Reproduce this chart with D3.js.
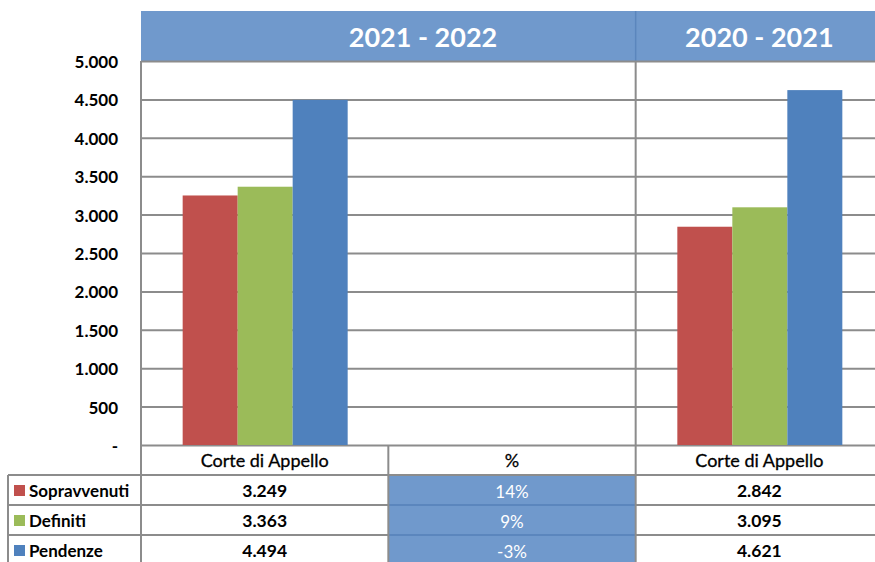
<!DOCTYPE html>
<html>
<head>
<meta charset="utf-8">
<script src="https://cdn.jsdelivr.net/npm/d3@7"></script>
<style>
  body { margin: 0; background: #fff; }
  svg text { font-family: Lato, "Open Sans", sans-serif; }
</style>
</head>
<body>
<div id="chart"></div>
<script>
// ----------------------------------------------- //
// Data
var periods = ["2021 - 2022", "2020 - 2021"];
var columns = ["Corte di Appello", "%", "Corte di Appello "];
var seriesNames = ["Sopravvenuti", "Definiti", "Pendenze"];
var values2122 = [3249, 3363, 4494];
var values2021 = [2842, 3095, 4621];
var pctLabels = ["14%", "9%", "-3%"];
var yTicks = [0, 500, 1000, 1500, 2000, 2500, 3000, 3500, 4000, 4500, 5000];
var colors = ["#c0504d", "#9bbb59", "#4f81bd"];

// ----------------------------------------------- //
// Sizes
var svgWidth = 875;
var svgHeight = 562;
var plotLeft = 141, plotRight = 883;
var plotTop = 61, plotBottom = 445;
var rowH = 30;

var svg = d3.select("#chart")
    .append("svg")
    .attr("width", svgWidth)
    .attr("height", svgHeight);

var x = d3.scaleBand()
    .domain(columns)
    .range([plotLeft, plotRight]);

var y = d3.scaleLinear()
    .domain([0, 5000])
    .range([plotBottom, plotTop]);

var barX = d3.scaleBand()
    .domain(seriesNames)
    .range([0, 165]);

var gridColor = "#8c8c8c";
var fmt = v => d3.format(",")(v).replace(/,/g, ".");

// ----------------------------------------------- //
// Header band
svg.append("rect")
    .attr("x", plotLeft).attr("y", 11)
    .attr("width", svgWidth - plotLeft).attr("height", plotTop - 11)
    .attr("fill", "#7099cc");
svg.append("line")
    .attr("x1", x(columns[2])).attr("x2", x(columns[2]))
    .attr("y1", 11).attr("y2", plotTop)
    .attr("stroke", "#5b86bd").attr("stroke-width", 1.5);

svg.append("text")
    .attr("x", 423).attr("y", 47)
    .attr("text-anchor", "middle")
    .attr("fill", "#fff").attr("font-size", 27).attr("font-weight", "bold")
    .text(periods[0]);
svg.append("text")
    .attr("x", x(columns[2]) + x.bandwidth() / 2).attr("y", 47)
    .attr("text-anchor", "middle")
    .attr("fill", "#fff").attr("font-size", 27).attr("font-weight", "bold")
    .text(periods[1]);

// ----------------------------------------------- //
// Gridlines and y labels
var leftAxis = d3.axisLeft(y)
    .tickValues(yTicks)
    .tickSize(-(svgWidth - plotLeft))
    .tickFormat(d => d === 0 ? "-" : fmt(d));

var yAxis = svg.append("g")
    .attr("transform", `translate(${plotLeft}, 0)`)
    .call(leftAxis);
yAxis.select(".domain").remove();
yAxis.selectAll(".tick line")
    .attr("stroke", gridColor).attr("stroke-width", 2);
yAxis.selectAll(".tick text")
    .attr("x", -23)
    .attr("dy", "0.38em")
    .attr("fill", "#000")
    .attr("font-size", 17)
    .attr("font-weight", "bold")
    .style("font-family", "Lato, 'Open Sans', sans-serif");

// vertical lines
svg.append("line")
    .attr("x1", plotLeft).attr("x2", plotLeft)
    .attr("y1", plotTop).attr("y2", svgHeight)
    .attr("stroke", gridColor).attr("stroke-width", 2);
svg.append("line")
    .attr("x1", x(columns[2])).attr("x2", x(columns[2]))
    .attr("y1", plotTop).attr("y2", plotBottom)
    .attr("stroke", gridColor).attr("stroke-width", 2);

// ----------------------------------------------- //
// Bars
function drawBars(col, vals) {
    var g = svg.append("g")
        .attr("transform", `translate(${x(col) + x.bandwidth() / 2 - 82}, 0)`);
    g.selectAll("rect")
        .data(vals)
        .enter()
        .append("rect")
        .attr("x", (d, i) => barX(seriesNames[i]))
        .attr("y", d => y(d))
        .attr("width", barX.bandwidth())
        .attr("height", d => y(0) - y(d))
        .attr("fill", (d, i) => colors[i]);
}
drawBars(columns[0], values2122);
drawBars(columns[2], values2021);

// ----------------------------------------------- //
// Data table
var tableTop = plotBottom;
var legendLeft = 8;

// percent cells
svg.append("rect")
    .attr("x", x(columns[1])).attr("y", tableTop + rowH)
    .attr("width", x.bandwidth()).attr("height", svgHeight - tableTop - rowH)
    .attr("fill", "#7099cc");

// horizontal row lines
for (var r = 1; r <= 3; r++) {
    var yy = tableTop + r * rowH;
    svg.append("line")
        .attr("x1", legendLeft).attr("x2", svgWidth)
        .attr("y1", yy).attr("y2", yy)
        .attr("stroke", gridColor).attr("stroke-width", 2);
    if (r > 1) {
        svg.append("line")
            .attr("x1", x(columns[1])).attr("x2", x(columns[2]))
            .attr("y1", yy).attr("y2", yy)
            .attr("stroke", "#5b86bd").attr("stroke-width", 2);
    }
}

// vertical table lines
svg.append("line")
    .attr("x1", legendLeft).attr("x2", legendLeft)
    .attr("y1", tableTop + rowH).attr("y2", svgHeight)
    .attr("stroke", gridColor).attr("stroke-width", 2);
[columns[1], columns[2]].forEach(function(c) {
    svg.append("line")
        .attr("x1", x(c)).attr("x2", x(c))
        .attr("y1", tableTop).attr("y2", svgHeight)
        .attr("stroke", gridColor).attr("stroke-width", 2);
});

// column headers
svg.selectAll(".colHead")
    .data(columns)
    .enter()
    .append("text")
    .attr("class", "colHead")
    .attr("x", d => x(d) + x.bandwidth() / 2)
    .attr("y", tableTop + 22)
    .attr("text-anchor", "middle")
    .attr("font-size", 18)
    .attr("fill", "#000")
    .attr("stroke", "#000").attr("stroke-width", 0.3)
    .text(d => d.trim());

// legend and values
seriesNames.forEach(function(name, i) {
    var rowY = tableTop + (i + 1) * rowH;
    svg.append("rect")
        .attr("x", 14).attr("y", rowY + 10)
        .attr("width", 11).attr("height", 11)
        .attr("fill", colors[i]);
    svg.append("text")
        .attr("x", 29).attr("y", rowY + 22)
        .attr("font-size", 17).attr("font-weight", "bold")
        .attr("fill", "#000")
        .text(name);

    svg.append("text")
        .attr("x", x(columns[0]) + x.bandwidth() / 2).attr("y", rowY + 22)
        .attr("text-anchor", "middle")
        .attr("font-size", 17.5).attr("font-weight", "bold")
        .text(fmt(values2122[i]));
    svg.append("text")
        .attr("x", x(columns[1]) + x.bandwidth() / 2).attr("y", rowY + 23)
        .attr("text-anchor", "middle")
        .attr("font-size", 17)
        .attr("fill", "#fff")
        .text(pctLabels[i]);
    svg.append("text")
        .attr("x", x(columns[2]) + x.bandwidth() / 2).attr("y", rowY + 22)
        .attr("text-anchor", "middle")
        .attr("font-size", 17.5).attr("font-weight", "bold")
        .text(fmt(values2021[i]));
});
</script>
</body>
</html>
